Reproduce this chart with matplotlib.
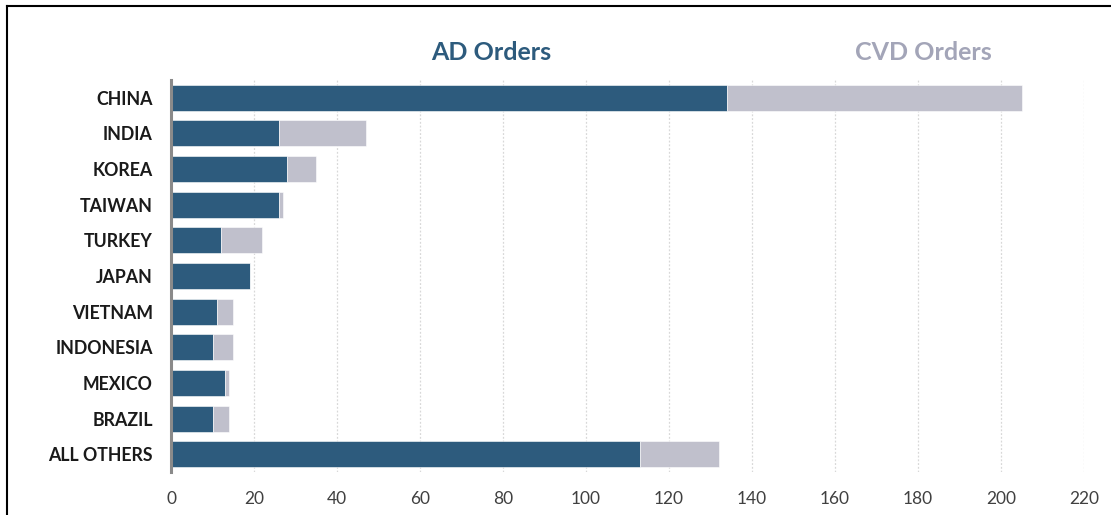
import matplotlib
matplotlib.use("Agg")
import matplotlib.pyplot as plt
from matplotlib.lines import Line2D

countries = ["CHINA", "INDIA", "KOREA", "TAIWAN", "TURKEY", "JAPAN",
             "VIETNAM", "INDONESIA", "MEXICO", "BRAZIL", "ALL OTHERS"]
ad_orders = [134, 26, 28, 26, 12, 19, 11, 10, 13, 10, 113]
cvd_orders = [71, 21, 7, 1, 10, 0, 4, 5, 1, 4, 19]
x_ticks = [0, 20, 40, 60, 80, 100, 120, 140, 160, 180, 200, 220]

AD_COLOR = "#2D5B7D"
CVD_COLOR = "#C0C0CC"
CVD_TEXT = "#A3A5B8"

plt.rcParams['font.family'] = ['Lato', 'DejaVu Sans']

fig = plt.figure(figsize=(11.11, 5.15), dpi=100)
ax = fig.add_axes([171/1111, 43/515, (1084-171)/1111, (472-80)/515])

y = list(range(len(countries)))
ax.barh(y, ad_orders, height=0.73, color=AD_COLOR, edgecolor="white", linewidth=0.4, zorder=3)
ax.barh(y, cvd_orders, left=ad_orders, height=0.73, color=CVD_COLOR, edgecolor="white", linewidth=0.4, zorder=3)

ax.set_ylim(len(countries) - 0.5, -0.5)
ax.set_xlim(0, 220)
ax.set_xticks(x_ticks)
ax.set_xticklabels([str(t) for t in x_ticks], fontsize=12.5, color="#404040")
ax.set_yticks(y)
ax.set_yticklabels(countries, fontsize=12.8, fontweight="bold", color="#1A1A1A")
ax.tick_params(axis="both", length=0)
ax.tick_params(axis="x", pad=14)
ax.tick_params(axis="y", pad=13)

for s in ["top", "right", "bottom"]:
    ax.spines[s].set_visible(False)
ax.spines["left"].set_color("#8A8A8A")
ax.spines["left"].set_linewidth(2.2)
ax.spines["left"].set_zorder(4)

ax.grid(axis="x", color="#D8D8D8", linestyle=(0, (1.5, 1.5)), linewidth=0.9, zorder=0)
ax.set_axisbelow(True)

fig.text(491/1111, 1 - 52/515, "AD Orders", fontsize=18, fontweight="bold",
         color=AD_COLOR, ha="center", va="center")
fig.text(923/1111, 1 - 52/515, "CVD Orders", fontsize=18, fontweight="bold",
         color=CVD_TEXT, ha="center", va="center")

# frame border (left and top visible)
fig.add_artist(Line2D([7/1111, 7/1111], [0, 1 - 6/515], transform=fig.transFigure,
                      color="black", linewidth=1.5))
fig.add_artist(Line2D([7/1111, 1], [1 - 6/515, 1 - 6/515], transform=fig.transFigure,
                      color="black", linewidth=1.5))

fig.savefig("out.png", dpi=100)
